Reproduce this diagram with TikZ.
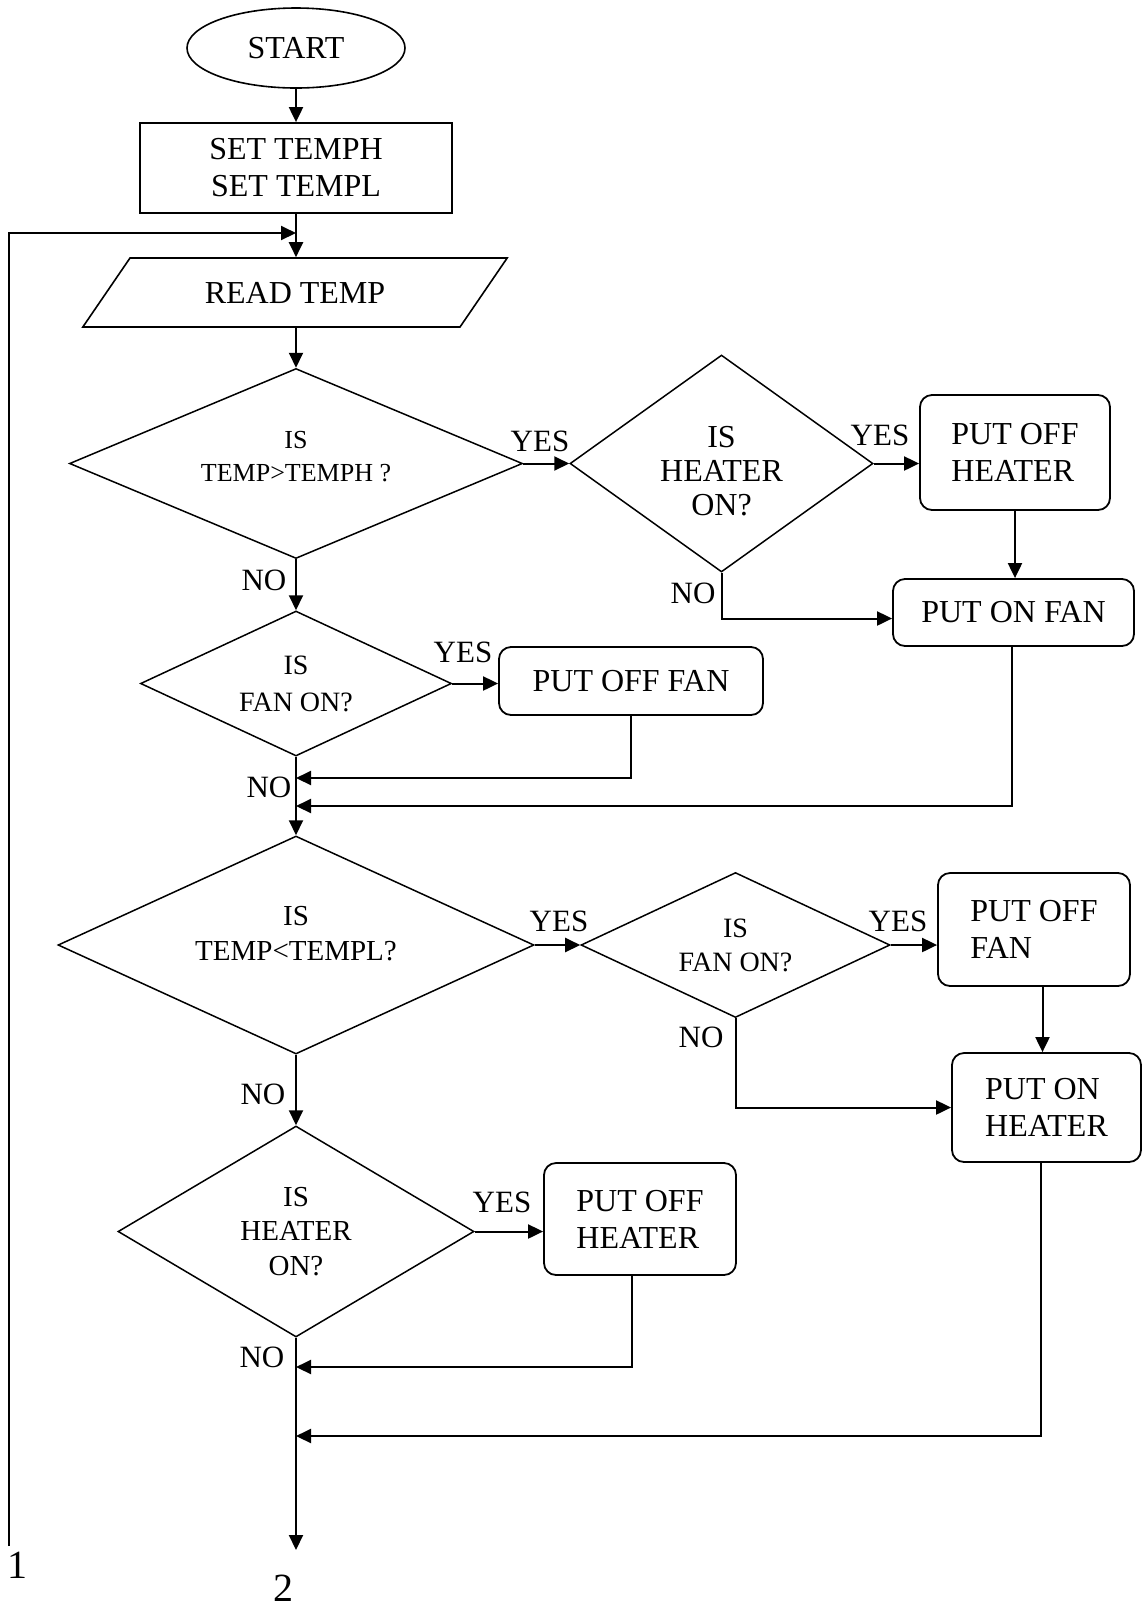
\documentclass[tikz,border=0pt]{standalone}
\usepackage{fontspec}
\setmainfont{Liberation Serif}
\usetikzlibrary{positioning,arrows.meta,shapes.geometric,calc}
\tikzset{
  term/.style={ellipse,draw,line width=0.8pt,inner sep=0pt,minimum width=109pt,minimum height=40pt,font=\fontsize{16}{19}\selectfont},
  proc/.style={draw,line width=0.9pt,inner sep=0pt,align=center,font=\fontsize{16}{18.5}\selectfont},
  act/.style={draw,rounded corners=6pt,line width=0.9pt,inner sep=0pt,align=left,font=\fontsize{16}{18.5}\selectfont},
  io/.style={trapezium,trapezium left angle=39.4,trapezium right angle=140.6,trapezium stretches=true,draw,line width=0.8pt,inner sep=0pt,font=\fontsize{16}{19}\selectfont},
  dec/.style={diamond,draw,line width=0.75pt,inner sep=0pt,align=center},
  edge/.style={-{Triangle[length=7.5pt,width=7pt]},line width=1pt},
  elbl/.style={inner sep=0pt,font=\fontsize{15.5}{18}\selectfont},
  nlbl/.style={inner sep=0pt,font=\fontsize{20}{24}\selectfont},
}
\begin{document}
\begin{tikzpicture}[x=0.5pt,y=-0.5pt]
  \useasboundingbox (0,0) rectangle (1143,1608);
  \node[term] (start) at (296,48) {START};
  \node[proc,minimum width=156pt,minimum height=45pt] (set) at (296,168) {SET TEMPH\\SET TEMPL};
  \node[io,minimum width=212.5pt,minimum height=34.5pt] (read) at (295,292.5) {READ TEMP};
  \node[dec,aspect=2.38,minimum width=226.5pt,minimum height=95pt,text depth=7pt,font=\fontsize{13}{16.5}\selectfont] (hiq) at (296,463.5) {IS\\TEMP>TEMPH ?};
  \node[dec,aspect=1.4,minimum width=151.5pt,minimum height=108.5pt,text height=52pt,font=\fontsize{16}{17}\selectfont] (heatq) at (721.5,463.5) {IS\\HEATER\\ON?};
  \node[act,minimum width=95pt,minimum height=57.5pt] (offheat) at (1015,452.5) {PUT OFF\\HEATER};
  \node[act,minimum width=120.5pt,minimum height=33.5pt] (onfan) at (1013.5,612.5) {PUT ON FAN};
  \node[dec,aspect=2.14,minimum width=155.5pt,minimum height=72.5pt,font=\fontsize{14}{18.5}\selectfont] (fanq) at (296,683.5) {IS\\FAN ON?};
  \node[act,minimum width=132pt,minimum height=34pt] (offfan) at (631,681) {PUT OFF FAN};
  \node[dec,aspect=2.18,minimum width=238pt,minimum height=109pt,text depth=12pt,font=\fontsize{14.5}{17.5}\selectfont] (loq) at (296,945) {IS\\TEMP<TEMPL?};
  \node[dec,aspect=2.13,minimum width=154.5pt,minimum height=72.5pt,font=\fontsize{14}{17}\selectfont] (fanq2) at (735.5,945) {IS\\FAN ON?};
  \node[act,minimum width=96pt,minimum height=56.5pt] (offfan2) at (1034,929.5) {PUT OFF\\FAN};
  \node[act,minimum width=94.5pt,minimum height=54.5pt] (onheat) at (1046.5,1107.5) {PUT ON\\HEATER};
  \node[dec,aspect=1.69,minimum width=178pt,minimum height=105.5pt,font=\fontsize{14.5}{17.3}\selectfont] (heatq2) at (296,1231.5) {IS\\HEATER\\ON?};
  \node[act,minimum width=96pt,minimum height=56pt] (offheat2) at (640,1219) {PUT OFF\\HEATER};
  \coordinate (jtop) at (296,233);
  \coordinate (loopend) at (9,1546);
  \coordinate (jfan) at (296,778);
  \coordinate (jon) at (296,806);
  \coordinate (jheat) at (296,1367);
  \coordinate (jon2) at (296,1436);
  \coordinate (out) at (296,1550);
  \node[nlbl] (one) at (18,1565) {1};
  \node[nlbl] (two) at (283,1588) {2};
  \node[elbl] (yhi) at (540,441) {YES};
  \node[elbl] (yheat) at (880,435) {YES};
  \node[elbl] (nheat) at (693,593) {NO};
  \node[elbl] (nhi) at (264,580) {NO};
  \node[elbl] (yfan) at (463,652) {YES};
  \node[elbl] (nfan) at (269,787) {NO};
  \node[elbl] (ylo) at (559,921) {YES};
  \node[elbl] (yfan2) at (898,921) {YES};
  \node[elbl] (nfan2) at (701,1037) {NO};
  \node[elbl] (nlo) at (263,1094) {NO};
  \node[elbl] (yheat2) at (502,1202) {YES};
  \node[elbl] (nheat2) at (262,1357) {NO};
  \draw[edge] (start) -- (set);
  \draw[edge] (set.south) -- (set.south |- read.north);
  \draw[edge] (loopend) |- (jtop);
  \draw[edge] (hiq.north |- read.south) -- (hiq.north);
  \draw[edge] (hiq) -- (heatq);
  \draw[edge] (heatq.east) -- (heatq.east -| offheat.west);
  \draw[edge] (offheat.south) -- (offheat.south |- onfan.north);
  \draw[edge] (heatq.south) |- ([yshift=-3pt]onfan.west);
  \draw[edge] ([xshift=-1pt]onfan.south) |- (jon);
  \draw[edge] (hiq) -- (fanq);
  \draw[edge] (fanq.east) -- (fanq.east -| offfan.west);
  \draw[edge] (offfan.south) |- (jfan);
  \draw[edge] (fanq) -- (loq);
  \draw[edge] (loq) -- (fanq2);
  \draw[edge] (fanq2.east) -- (fanq2.east -| offfan2.west);
  \draw[edge] ([xshift=-2pt]offfan2.south -| onheat.north) -- ([xshift=-2pt]onheat.north);
  \draw[edge] (fanq2.south) |- (onheat.west);
  \draw[edge] ([xshift=-3pt]onheat.south) |- (jon2);
  \draw[edge] (loq) -- (heatq2);
  \draw[edge] (heatq2.east) -- (heatq2.east -| offheat2.west);
  \draw[edge] ([xshift=-4pt]offheat2.south) |- (jheat);
  \draw[edge] (heatq2.south) -- (out);
\end{tikzpicture}
\end{document}
